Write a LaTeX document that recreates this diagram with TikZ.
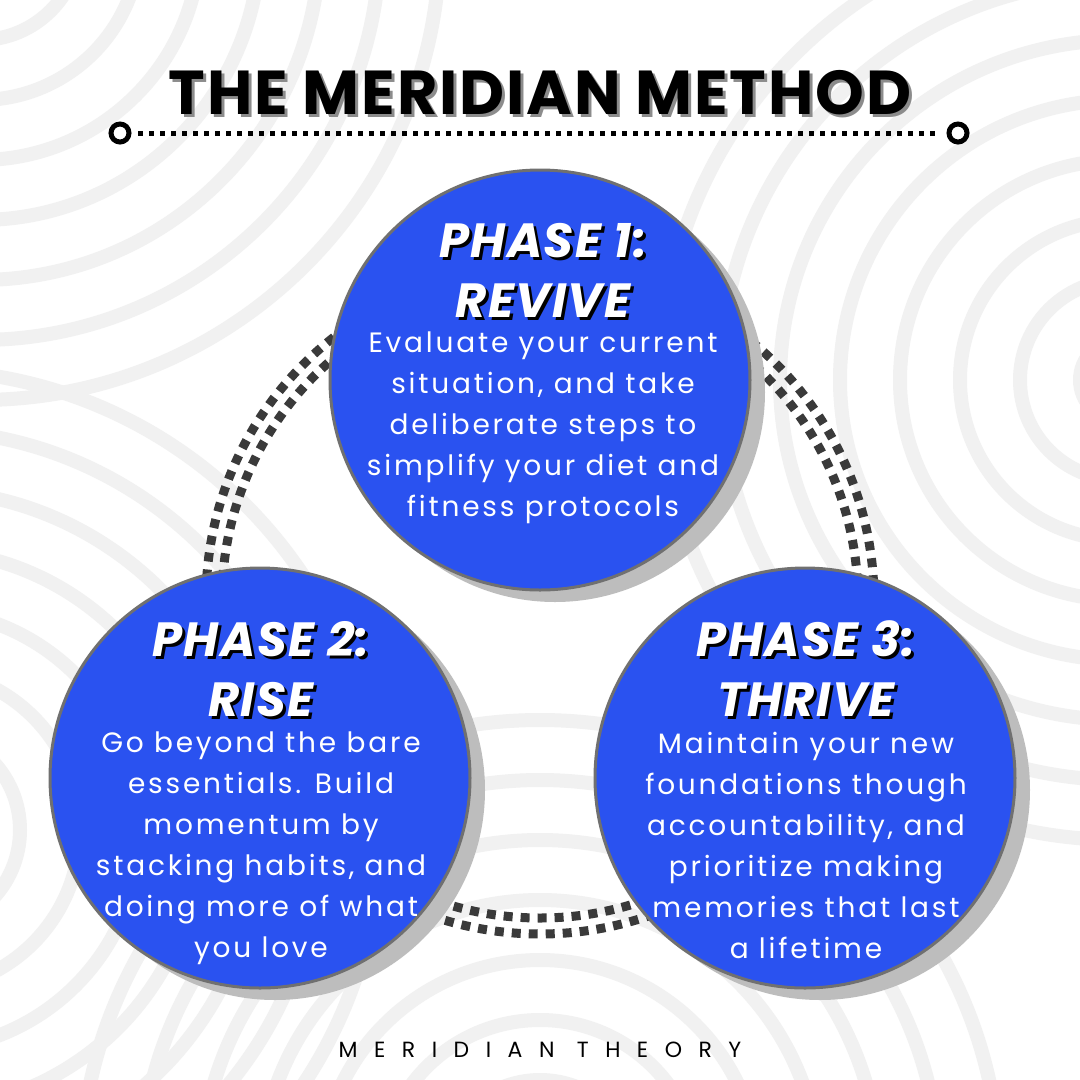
\documentclass[tikz,border=0pt]{standalone}
\usepackage{fontspec}
\setmainfont{Poppins}
\usetikzlibrary{positioning}
\definecolor{phaseblue}{HTML}{2A52F0}
\definecolor{rimgrey}{HTML}{707070}
\definecolor{shadowgrey}{HTML}{BDBDBD}
\definecolor{patgrey}{HTML}{F1F1F1}
\definecolor{dotgrey}{HTML}{3A3A3A}
\tikzset{
  phase/.style={circle, fill=phaseblue, draw=rimgrey, line width=3pt, minimum size=420pt, inner sep=0pt},
  phaseshadow/.style={circle, fill=shadowgrey, minimum size=420pt, inner sep=0pt},
  phasehead/.style={text=white, align=center, font=\fontsize{48}{60}\selectfont\bfseries\itshape\addfontfeature{LetterSpace=3}},
  headshadow/.style={phasehead, text=black},
  phasebody/.style={text=white, align=center, font=\fontsize{28}{41}\selectfont\addfontfeature{LetterSpace=10}},
  ring/.style={dotgrey, line width=9pt, dash pattern=on 9pt off 8pt},
  pat/.style={patgrey, line width=14pt},
  titletext/.style={font=\fontsize{62}{66}\selectfont\bfseries\addfontfeature{LetterSpace=3}}
}
\begin{document}
\begin{tikzpicture}[x=1pt,y=-1pt]
    \useasboundingbox (0,0) rectangle (1080,1080);
    \fill[white] (0,0) rectangle (1080,1080);

    % background arcs
    \begin{scope}
    \clip (0,0) rectangle (1080,1080);
    \foreach \r in {40,100,...,460} {
      \draw[pat] (-20,-60) circle (\r);
      \draw[pat] (540,1180) circle (\r);
      \draw[pat] (1120,380) circle (\r);
      \draw[pat] (-80,830) circle (\r);
    }
    \end{scope}

    % title
    \node[titletext, text=black!45] (titleshadow) at (543,96) {THE MERIDIAN METHOD};
    \node[titletext] (title) at (540,93) {THE MERIDIAN METHOD};
    \coordinate (ruleL) at (120,133);
    \coordinate (ruleR) at (958,133);
    \draw[line width=5pt, dash pattern=on 5pt off 6pt] ([xshift=18pt]ruleL) -- ([xshift=-18pt]ruleR);
    \draw[line width=5pt, fill=white] (ruleL) circle (9);
    \draw[line width=5pt, fill=white] (ruleR) circle (9);

    % dotted rings
    \coordinate (mid) at (540,600);
    \draw[ring] (mid) circle (318);
    \draw[ring] (mid) circle (334);

    % shadows
    \node[phaseshadow] (s1) at (555,392) {};
    \node[phaseshadow] (s2) at (275,790) {};
    \node[phaseshadow] (s3) at (820,790) {};

    % phases
    \node[phase] (p1) at (540,380) {};
    \node[phase] (p2) at (260,778) {};
    \node[phase] (p3) at (805,778) {};

    \node[headshadow] (h1s) at (546,273) {PHASE 1:\\REVIVE};
    \node[phasehead] (h1) at (543,270) {PHASE 1:\\REVIVE};
    \node[phasebody, below=8pt of h1] (b1) {Evaluate your current\\situation, and take\\deliberate steps to\\simplify your diet and\\fitness protocols};

    \node[headshadow] (h2s) at (264,672) {PHASE 2:\\RISE};
    \node[phasehead] (h2) at (261,669) {PHASE 2:\\RISE};
    \node[phasebody, below=8pt of h2] (b2) {Go beyond the bare\\essentials. Build\\momentum by\\stacking habits, and\\doing more of what\\you love};

    \node[headshadow] (h3s) at (809,672) {PHASE 3:\\THRIVE};
    \node[phasehead] (h3) at (806,669) {PHASE 3:\\THRIVE};
    \node[phasebody, below=8pt of h3] (b3) {Maintain your new\\foundations though\\accountability, and\\prioritize making\\memories that last\\a lifetime};

    % footer
    \node (footer) at (540,1050) {\fontsize{22}{24}\selectfont\addfontfeature{LetterSpace=75}MERIDIAN THEORY};
\end{tikzpicture}
\end{document}
